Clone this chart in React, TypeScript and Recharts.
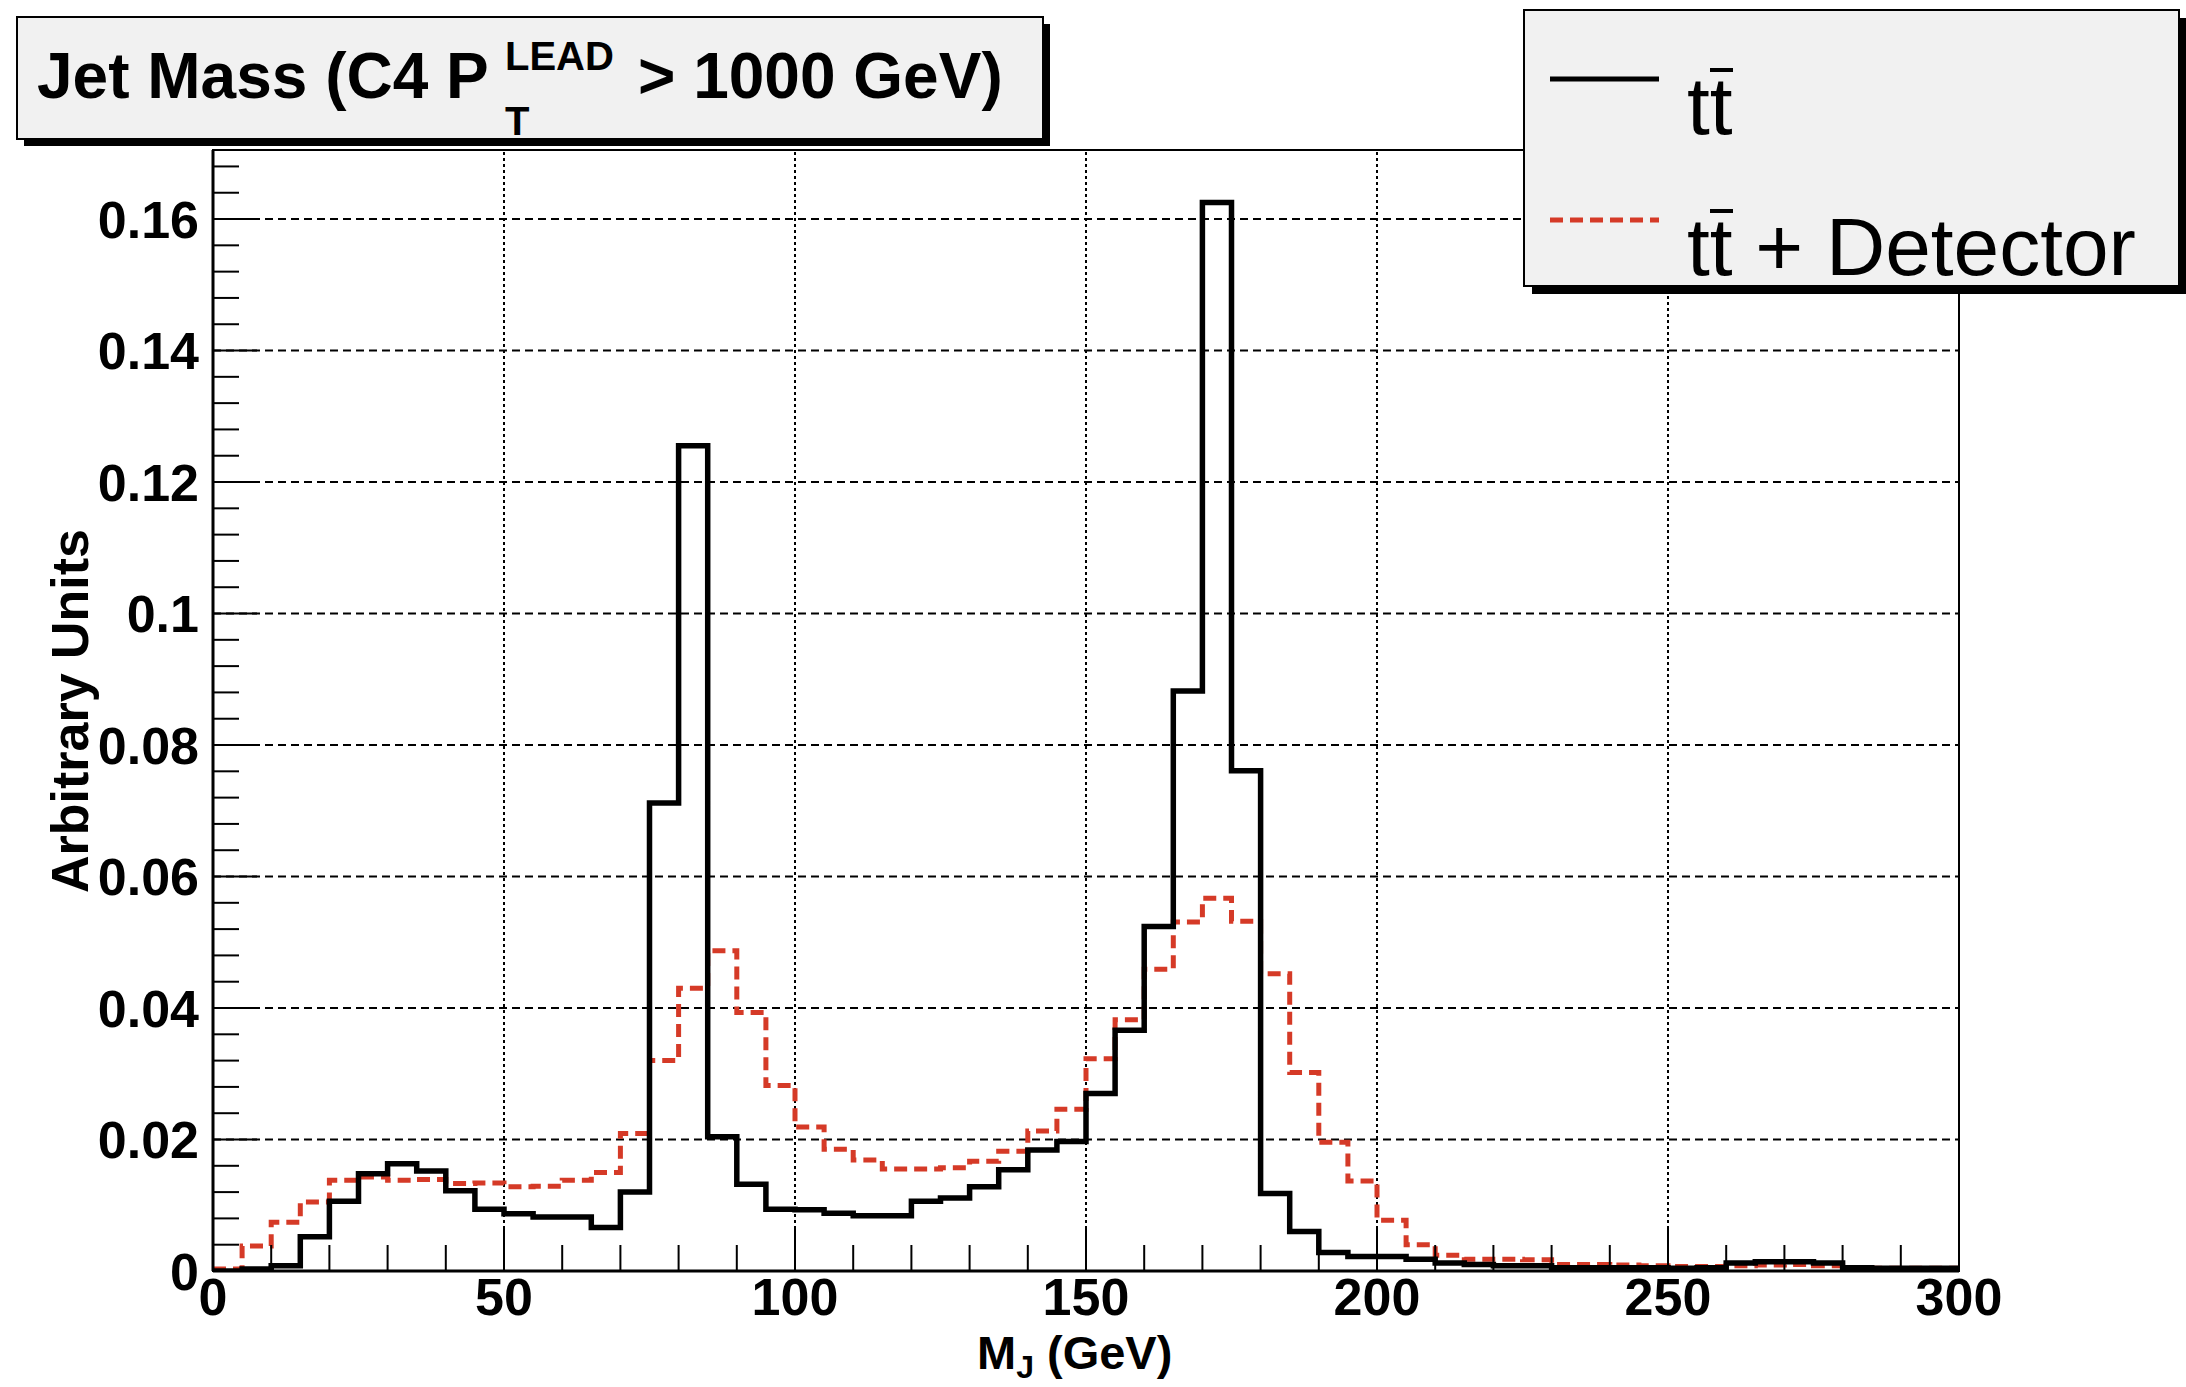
import React from 'react';
import { LineChart, Line, XAxis, YAxis, ReferenceLine } from 'recharts';

// lower bin edges (5 GeV bins), last entry closes the histogram at 300
const binEdges = [
  0, 5, 10, 15, 20, 25, 30, 35, 40, 45, 50, 55, 60, 65, 70, 75, 80, 85, 90, 95,
  100, 105, 110, 115, 120, 125, 130, 135, 140, 145, 150, 155, 160, 165, 170, 175, 180, 185, 190, 195,
  200, 205, 210, 215, 220, 225, 230, 235, 240, 245, 250, 255, 260, 265, 270, 275, 280, 285, 290, 295,
  300,
];

// tt (truth) - black solid
const ttbar = [
  0.0, 0.0003, 0.0008, 0.0052, 0.0106, 0.0148, 0.0163, 0.0152, 0.0122, 0.0094,
  0.0087, 0.0082, 0.0082, 0.0066, 0.012, 0.0712, 0.1255, 0.0204, 0.0132, 0.0094,
  0.0093, 0.0088, 0.0084, 0.0084, 0.0106, 0.0111, 0.0128, 0.0154, 0.0184, 0.0197,
  0.027, 0.0366, 0.0524, 0.0882, 0.1625, 0.0761, 0.0118, 0.006, 0.0028, 0.0022,
  0.0022, 0.0018, 0.0012, 0.001, 0.0008, 0.0008, 0.0005, 0.0005, 0.0005, 0.0005,
  0.0004, 0.0005, 0.0012, 0.0014, 0.0014, 0.0012, 0.0005, 0.0004, 0.0004, 0.0004,
];

// tt + Detector - red dashed
const ttbarDetector = [
  0.0003, 0.0038, 0.0074, 0.0105, 0.0138, 0.0143, 0.0138, 0.0139, 0.0133, 0.0134,
  0.0128, 0.0129, 0.0138, 0.015, 0.0209, 0.032, 0.043, 0.0487, 0.0393, 0.0282,
  0.0219, 0.0185, 0.0169, 0.0155, 0.0155, 0.0157, 0.0167, 0.0182, 0.0213, 0.0246,
  0.0323, 0.0382, 0.0459, 0.0531, 0.0567, 0.0532, 0.0452, 0.0302, 0.0196, 0.0137,
  0.0077, 0.004, 0.0024, 0.0018, 0.0018, 0.0017, 0.001, 0.001, 0.0009, 0.0008,
  0.0007, 0.0007, 0.0008, 0.0009, 0.001, 0.0008, 0.0005, 0.0004, 0.0004, 0.0004,
];

const xMajorTicks = [0, 50, 100, 150, 200, 250, 300];
const xTickLabels = ['0', '50', '100', '150', '200', '250', '300'];
const yMajorTicks = [0, 0.02, 0.04, 0.06, 0.08, 0.1, 0.12, 0.14, 0.16];
const yTickLabels = ['0', '0.02', '0.04', '0.06', '0.08', '0.1', '0.12', '0.14', '0.16'];

const W = 2186;
const H = 1387;
const FONT = '"Liberation Sans", Arial, Helvetica, sans-serif';
const RED = '#d53a27';

// minor ticks: 10 GeV on x, 0.004 on y
const xAllTicks = Array.from({ length: 31 }, (_, i) => i * 10);
const yAllTicks = Array.from({ length: 43 }, (_, i) => +(i * 0.004).toFixed(3));

const chartData = binEdges.map((edge, i) => ({
  mass: edge,
  truth: ttbar[Math.min(i, ttbar.length - 1)],
  detector: ttbarDetector[Math.min(i, ttbarDetector.length - 1)],
}));

const XTick = (props: any) => {
  const { x, y, payload } = props;
  const idx = xMajorTicks.indexOf(payload.value);
  const major = idx >= 0;
  return (
    <g>
      <line x1={x} x2={x} y1={y} y2={y - (major ? 44 : 26)} stroke="#000" strokeWidth={2} />
      {major && (
        <text x={x} y={y + 44} textAnchor="middle" fontFamily={FONT} fontWeight="bold" fontSize={52} fill="#000">
          {xTickLabels[idx]}
        </text>
      )}
    </g>
  );
};

const YTick = (props: any) => {
  const { x, y, payload } = props;
  const idx = yMajorTicks.findIndex((t) => Math.abs(t - payload.value) < 1e-9);
  const major = idx >= 0;
  return (
    <g>
      <line x1={x} x2={x + (major ? 44 : 26)} y1={y} y2={y} stroke="#000" strokeWidth={2} />
      {major && (
        <text x={x - 14} y={y} dy="0.36em" textAnchor="end" fontFamily={FONT} fontWeight="bold" fontSize={52} fill="#000">
          {yTickLabels[idx]}
        </text>
      )}
    </g>
  );
};

export default function App() {
  return (
    <div style={{ position: 'absolute', left: 0, top: 0, width: W, height: H, background: '#fff' }}>
      <LineChart width={W} height={H} data={chartData} margin={{ top: 150, right: 227, bottom: 0, left: 0 }}>
        <XAxis
          dataKey="mass"
          type="number"
          domain={[0, 300]}
          ticks={xAllTicks}
          interval={0}
          height={116}
          tickSize={0}
          tickMargin={0}
          tickLine={false}
          tick={<XTick />}
          axisLine={{ stroke: '#000', strokeWidth: 3 }}
          allowDataOverflow
        />
        <YAxis
          type="number"
          domain={[0, 0.1705]}
          ticks={yAllTicks}
          interval={0}
          width={213}
          tickSize={0}
          tickMargin={0}
          tickLine={false}
          tick={<YTick />}
          axisLine={{ stroke: '#000', strokeWidth: 3 }}
          allowDataOverflow
        />
        {yMajorTicks.slice(1).map((v) => (
          <ReferenceLine key={'h' + v} y={v} stroke="#000" strokeWidth={2} strokeDasharray="8 5" />
        ))}
        {xMajorTicks.slice(1, -1).map((v) => (
          <ReferenceLine key={'v' + v} x={v} stroke="#000" strokeWidth={2} strokeDasharray="3 3" />
        ))}
        <Line
          dataKey="detector"
          type="stepAfter"
          stroke={RED}
          strokeWidth={5}
          strokeDasharray="13 7"
          dot={false}
          activeDot={false}
          isAnimationActive={false}
        />
        <Line
          dataKey="truth"
          type="stepAfter"
          stroke="#000"
          strokeWidth={5.5}
          dot={false}
          activeDot={false}
          isAnimationActive={false}
        />
      </LineChart>

      <svg
        width={W}
        height={H}
        style={{ position: 'absolute', left: 0, top: 0, pointerEvents: 'none' }}
        fontFamily={FONT}
      >
        {/* frame */}
        <rect x={213} y={150} width={1746} height={1121} fill="none" stroke="#000" strokeWidth={2} />

        {/* title box */}
        <rect x={24} y={24} width={1026} height={122} fill="#000" />
        <rect x={17} y={17} width={1026} height={122} fill="#f1f1f1" stroke="#000" strokeWidth={2} />
        <text x={37} y={98} fontSize={64} fontWeight="bold" fill="#000">Jet Mass (C4 P</text>
        <text x={505} y={70} fontSize={40} fontWeight="bold" fill="#000">LEAD</text>
        <text x={505} y={135} fontSize={40} fontWeight="bold" fill="#000">T</text>
        <text x={638} y={98} fontSize={64} fontWeight="bold" fill="#000">&gt; 1000 GeV)</text>

        {/* legend */}
        <rect x={1532} y={18} width={655} height={276} fill="#000" />
        <rect x={1524} y={10} width={655} height={276} fill="#f1f1f1" stroke="#000" strokeWidth={2} />
        <line x1={1550} x2={1659} y1={79} y2={79} stroke="#000" strokeWidth={5} />
        <text x={1687} y={134} fontSize={82} fill="#000">tt</text>
        <line x1={1710} x2={1733} y1={70} y2={70} stroke="#000" strokeWidth={4} />
        <line x1={1550} x2={1659} y1={220} y2={220} stroke={RED} strokeWidth={5} strokeDasharray="13 7" />
        <text x={1687} y={275} fontSize={82} fill="#000">tt + Detector</text>
        <line x1={1710} x2={1733} y1={211} y2={211} stroke="#000" strokeWidth={4} />

        {/* axis titles */}
        <text x={977} y={1369} fontSize={47} fontWeight="bold" fill="#000">
          M
          <tspan fontSize={32} dy={9}>J</tspan>
          <tspan dy={-9}> (GeV)</tspan>
        </text>
        <text
          transform="translate(88,711) rotate(-90)"
          textAnchor="middle"
          fontSize={52}
          fontWeight="bold"
          fill="#000"
        >
          Arbitrary Units
        </text>
      </svg>
    </div>
  );
}
